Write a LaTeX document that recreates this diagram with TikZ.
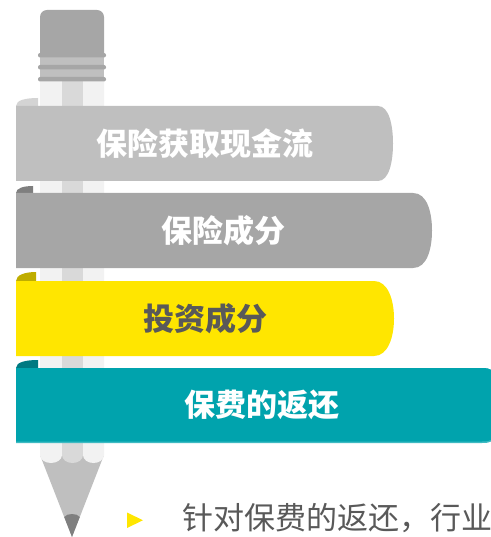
\documentclass[tikz,border=0pt]{standalone}
\usepackage{fontspec}
\newfontfamily\cjk{Noto Sans CJK SC}
\definecolor{eraser}{HTML}{A6A6A6}
\definecolor{ferdark}{HTML}{A6A6A6}
\definecolor{ferlight}{HTML}{BFBFBF}
\definecolor{woodlight}{HTML}{F2F2F2}
\definecolor{woodmid}{HTML}{D9D9D9}
\definecolor{conegray}{HTML}{BFBFBF}
\definecolor{leadgray}{HTML}{7F7F7F}
\definecolor{bandA}{HTML}{BFBFBF}
\definecolor{curlA}{HTML}{D4D4D4}
\definecolor{bandB}{HTML}{A6A6A6}
\definecolor{curlB}{HTML}{7F7F7F}
\definecolor{bandC}{HTML}{FFE600}
\definecolor{curlC}{HTML}{BFAD00}
\definecolor{bandD}{HTML}{00A3AD}
\definecolor{curlD}{HTML}{007A82}
\definecolor{edgeD}{HTML}{3FBAC2}
\definecolor{txtgray}{HTML}{595959}
\begin{document}
\begin{tikzpicture}[x=1pt,y=-1pt,
  bandlabel/.style={font=\cjk\bfseries\fontsize{31}{31}\selectfont, text=white, inner sep=0pt}]
\useasboundingbox (0,0) rectangle (490,537);

% pencil point and lead
\fill[conegray] (40,455) -- (104,455) -- (72,537) -- cycle;
\fill[leadgray] (64.2,517) .. controls (67,513) and (77,513) .. (79.8,517) -- (72,537) -- cycle;

% wooden body: three strips with scalloped ends
\fill[woodlight] (40,81) -- (40,455) arc (180:0:11 and 8) -- (62,81) -- cycle;
\fill[woodmid]   (62,81) -- (62,455) arc (180:0:10.5 and 8) -- (83,81) -- cycle;
\fill[woodlight] (83,81) -- (83,455) arc (180:0:10.5 and 8) -- (104,81) -- cycle;

% eraser and ferrule
\fill[eraser, rounded corners=7] (40,56) -- (40,10) -- (104,10) -- (104,56);
\fill[ferlight] (40,55) rectangle (104,81);
\foreach \yy in {53,65,77}
  \fill[ferdark, rounded corners=2] (38,\yy) rectangle (106,\yy+4.5);

% ribbon bands with folded left ends
\fill[curlA] (16,106) .. controls (16,100) and (26,98) .. (38,98) -- (38,106) -- cycle;
\fill[bandA] (16,106) -- (378,106) .. controls (389,106) and (393,125) .. (393,143.5)
  .. controls (393,162) and (389,181) .. (378,181) -- (16,181) -- cycle;

\fill[curlB] (16,193) .. controls (16,188) and (24,186) .. (33,186) -- (33,193) -- cycle;
\fill[bandB] (16,193) -- (413,193) .. controls (427,193) and (432,212) .. (432,230.5)
  .. controls (432,249) and (427,268) .. (413,268) -- (16,268) -- cycle;

\fill[curlC] (16,281) .. controls (16,275) and (25,272) .. (36,272) -- (36,281) -- cycle;
\fill[bandC] (16,281) -- (374,281) .. controls (388,281) and (394,300) .. (394,318.5)
  .. controls (394,337) and (388,356) .. (374,356) -- (16,356) -- cycle;

\fill[curlD] (16,368) .. controls (16,362) and (26,360) .. (38,360) -- (38,368) -- cycle;
\fill[edgeD] (16,368) -- (482,368) .. controls (490,368) and (496,370) .. (496,380)
  -- (496,432) .. controls (496,442) and (490,443) .. (482,443) -- (16,443) -- cycle;
\fill[bandD] (16,368) -- (482,368) .. controls (490,368) and (496,370) .. (496,380)
  -- (496,431) .. controls (496,440) and (490,441.5) .. (482,441.5) -- (16,441.5) -- cycle;

% band labels
\node[bandlabel] (l1) at (205,143.5) {保险获取现金流};
\node[bandlabel] (l2) at (223,230.5) {保险成分};
\node[bandlabel, text=txtgray] (l3) at (205,318.5) {投资成分};
\node[bandlabel] (l4) at (262,405) {保费的返还};

% bullet line
\fill[bandC] (127,512.5) -- (127,528) -- (143,520.25) -- cycle;
\node[anchor=west, inner sep=0pt, text=txtgray, font=\cjk\fontsize{31}{31}\selectfont] (note) at (182,518) {针对保费的返还，行业};
\end{tikzpicture}
\end{document}
